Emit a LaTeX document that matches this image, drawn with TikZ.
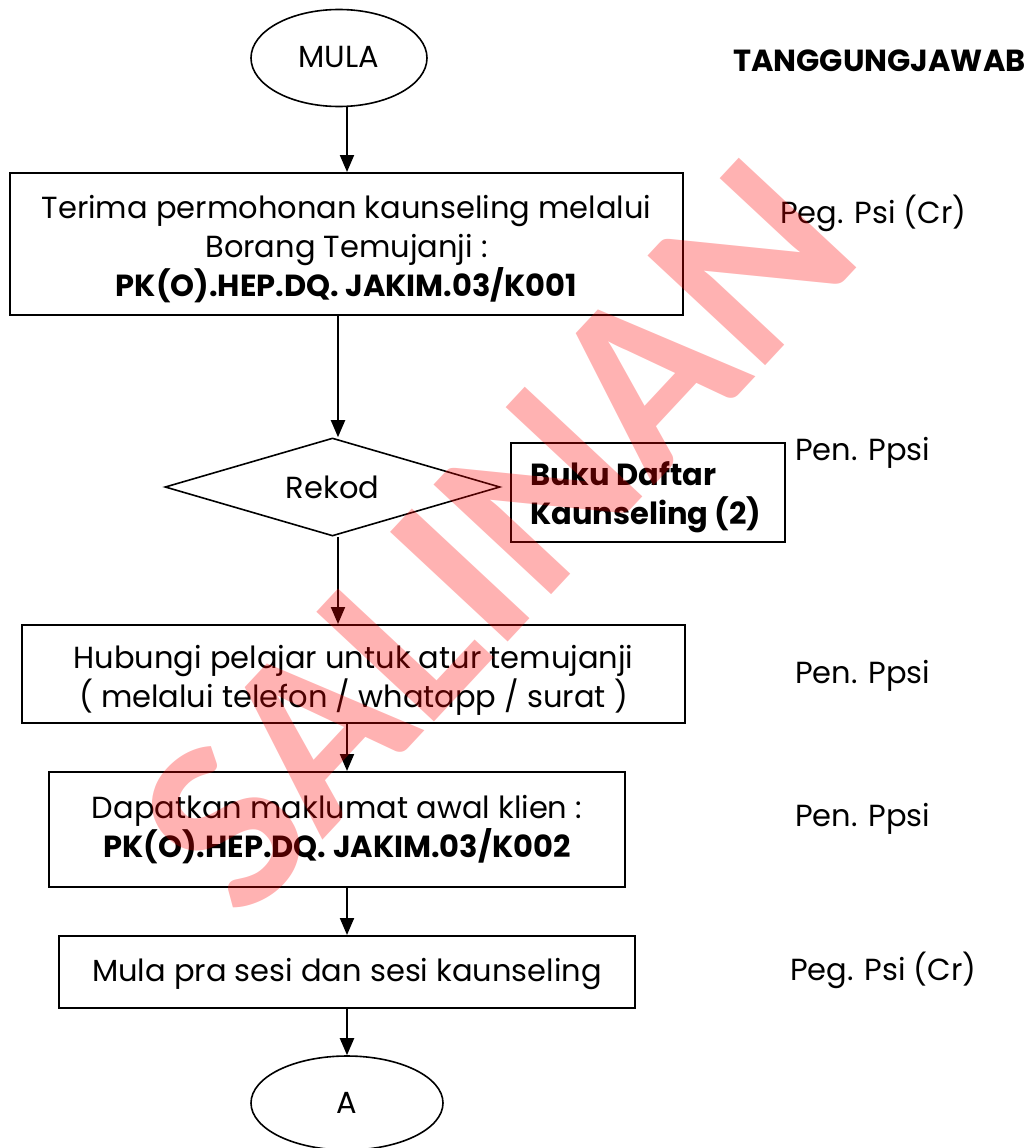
\documentclass[tikz,border=0pt]{standalone}
\usepackage{fontspec}
\setmainfont{Poppins}
\usetikzlibrary{arrows.meta,shapes.geometric}
\newfontfamily\wmfont{Carlito}
\begin{document}
\begin{tikzpicture}[x=1pt,y=-1pt,
  base/.style={font=\fontsize{30.5}{39}\selectfont, inner sep=0pt},
  stepbox/.style={draw, line width=2pt, inner sep=0pt},
  boxtext/.style={base, align=center},
  term/.style={base, draw, ellipse, line width=1.6pt},
  decide/.style={base, draw, diamond, line width=1.6pt},
  resp/.style={base, anchor=base west},
  arr/.style={line width=2pt, -{Triangle[width=14pt,length=17pt]}}
]
\useasboundingbox (0,0) rectangle (1031,1148);

% process column: frames
\node[term, minimum width=176pt, minimum height=97pt] (mula) at (339,58) {\raisebox{3pt}{MULA}};
\node[stepbox, minimum width=673pt, minimum height=142pt] (terima) at (346.5,244) {};
\node[decide, minimum width=335pt, minimum height=98pt, aspect=3.4] (rekod) at (332.5,487) {\raisebox{-2pt}{Rekod}};
\node[stepbox, minimum width=274pt, minimum height=99pt] (buku) at (648,492.5) {};
\node[stepbox, minimum width=663pt, minimum height=98pt] (hubungi) at (353.5,674) {};
\node[stepbox, minimum width=576pt, minimum height=115pt] (dapatkan) at (337,829.5) {};
\node[stepbox, minimum width=576pt, minimum height=72pt] (sesi) at (347,972) {};
\node[term, minimum width=192pt, minimum height=94pt] (konA) at (347,1103) {A};

% process column: texts
\node[boxtext] (terimaT) at ([yshift=-5pt]terima.center)
  {Terima permohonan kaunseling melalui\\ Borang Temujanji :\\ \textbf{PK(O).HEP.DQ. JAKIM.03/K001}};
\node[boxtext, align=left, anchor=west] (bukuT) at ([xshift=20pt,yshift=-5pt]buku.west)
  {\textbf{Buku Daftar}\\ \textbf{Kaunseling (2)}};
\node[boxtext] (hubungiT) at ([yshift=-6pt]hubungi.center)
  {Hubungi pelajar untuk atur temujanji\\ ( melalui telefon / whatapp / surat )};
\node[boxtext] (dapatkanT) at (dapatkan.center)
  {Dapatkan maklumat awal klien :\\ \textbf{PK(O).HEP.DQ. JAKIM.03/K002}};
\node[boxtext] (sesiT) at ([yshift=-2pt]sesi.center) {Mula pra sesi dan sesi kaunseling};

% connector spines
\coordinate (spineA) at (347,0);
\coordinate (spineB) at (338,0);
\draw[arr] (mula.south -| spineA) -- (terima.north -| spineA);
\draw[arr] (terima.south -| spineB) -- (rekod.north -| spineB);
\draw[arr] (rekod.south -| spineB) -- (hubungi.north -| spineB);
\draw[arr] (hubungi.south -| spineA) -- (dapatkan.north -| spineA);
\draw[arr] (dapatkan.south -| spineA) -- (sesi.north -| spineA);
\draw[arr] (sesi.south -| spineA) -- (konA.north -| spineA);

% responsibility column
\node[resp, font=\bfseries\fontsize{30.5}{36}\selectfont] (tj) at (733,71) {TANGGUNGJAWAB};
\node[resp] (r1) at (780,223) {Peg. Psi (Cr)};
\node[resp] (r2) at (795,460) {Pen. Ppsi};
\node[resp] (r3) at (795,683) {Pen. Ppsi};
\node[resp] (r4) at (795,826) {Pen. Ppsi};
\node[resp] (r5) at (790,980) {Peg. Psi (Cr)};

% watermark
\node[font=\wmfont\bfseries\fontsize{248}{248}\selectfont, text=red, opacity=0.3, rotate=47, inner sep=0pt] (wm) at (497,536) {SALINAN};
\end{tikzpicture}
\end{document}
